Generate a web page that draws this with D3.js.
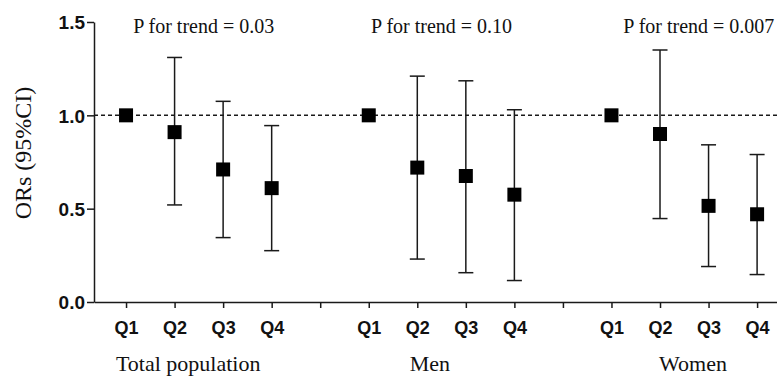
<!DOCTYPE html>
<html>
<head>
<meta charset="utf-8">
<script src="https://cdn.jsdelivr.net/npm/d3@7"></script>
<style>
  body { margin: 0; background: #fff; }
  .axis path, .axis line { stroke: #1a1a1a; stroke-width: 1.5px; }
  .tick-lbl { font-family: "Liberation Sans", Arial, sans-serif; font-weight: bold; fill: #111; }
  .serif { font-family: "Liberation Serif", "Times New Roman", serif; fill: #111; }
</style>
</head>
<body>
<div id="chart"></div>
<script>
// slot labels along the x axis ("" = empty gap slot between groups)
const slotLabels = ["Q1", "Q2", "Q3", "Q4", "", "Q1", "Q2", "Q3", "Q4", "", "Q1", "Q2", "Q3", "Q4"]

const groups = ["Total population", "Men", "Women"]
const groupSlots = [[0, 1, 2, 3], [5, 6, 7, 8], [10, 11, 12, 13]]
const groupLabelPos = [1.28, 6.26, 11.68]
const trendText = ["P for trend = 0.03", "P for trend = 0.10", "P for trend = 0.007"]
const trendPos = [1.6, 6.5, 11.8]

// OR and 95% CI per quartile, per group (Q1 reference has no CI)
const orTotal = [1.0, 0.91, 0.71, 0.61]
const loTotal = [null, 0.52, 0.345, 0.275]
const hiTotal = [null, 1.31, 1.075, 0.945]

const orMen = [1.0, 0.72, 0.675, 0.575]
const loMen = [null, 0.23, 0.157, 0.115]
const hiMen = [null, 1.21, 1.185, 1.03]

const orWomen = [1.0, 0.9, 0.515, 0.47]
const loWomen = [null, 0.447, 0.19, 0.147]
const hiWomen = [null, 1.35, 0.842, 0.79]

const yTicks = [0.0, 0.5, 1.0, 1.5]

const W = 777, H = 376

const svg = d3.select("#chart").append("svg")
    .attr("width", W)
    .attr("height", H)

const x = d3.scaleLinear().domain([-0.66, 13.41]).range([94, 777])
const y = d3.scaleLinear().domain([0, 1.5]).range([302, 22])

const points = []
const ors = [orTotal, orMen, orWomen]
const los = [loTotal, loMen, loWomen]
const his = [hiTotal, hiMen, hiWomen]
groups.forEach((g, gi) => {
    groupSlots[gi].forEach((s, qi) => {
        points.push({ slot: s, or: ors[gi][qi], lo: los[gi][qi], hi: his[gi][qi] })
    })
})

// y axis
const yAxis = svg.append("g")
    .attr("class", "axis")
    .attr("transform", `translate(${x(-0.66)},0)`)
    .call(d3.axisLeft(y).tickValues(yTicks).tickFormat(d3.format(".1f")).tickSize(7).tickSizeOuter(0))
yAxis.selectAll("text")
    .attr("class", "tick-lbl")
    .attr("font-size", 19)
    .attr("x", -9)
    .attr("dy", "0.36em")

// x axis
const xAxis = svg.append("g")
    .attr("class", "axis")
    .attr("transform", `translate(0,${y(0)})`)
    .call(d3.axisBottom(x).tickValues(d3.range(slotLabels.length)).tickFormat((d) => slotLabels[d]).tickSize(6).tickSizeOuter(0))
xAxis.selectAll("text")
    .attr("class", "tick-lbl")
    .attr("font-size", 18)
    .attr("y", 0)
    .attr("dy", 0)
    .attr("transform", "translate(0,32)")

// reference line at OR = 1
svg.append("line")
    .attr("x1", x(-0.66))
    .attr("x2", x(13.41))
    .attr("y1", y(1))
    .attr("y2", y(1))
    .attr("stroke", "#1a1a1a")
    .attr("stroke-width", 1.5)
    .attr("stroke-dasharray", "4,3")

// error bars
const ci = points.filter((d) => d.lo != null)
const eb = svg.append("g").attr("stroke", "#1a1a1a").attr("stroke-width", 1.5)
eb.selectAll(".v").data(ci).enter().append("line")
    .attr("x1", (d) => x(d.slot)).attr("x2", (d) => x(d.slot))
    .attr("y1", (d) => y(d.lo)).attr("y2", (d) => y(d.hi))
eb.selectAll(".hi").data(ci).enter().append("line")
    .attr("x1", (d) => x(d.slot) - 7.5).attr("x2", (d) => x(d.slot) + 7.5)
    .attr("y1", (d) => y(d.hi)).attr("y2", (d) => y(d.hi))
eb.selectAll(".lo").data(ci).enter().append("line")
    .attr("x1", (d) => x(d.slot) - 7.5).attr("x2", (d) => x(d.slot) + 7.5)
    .attr("y1", (d) => y(d.lo)).attr("y2", (d) => y(d.lo))

// square markers
svg.append("g").selectAll("rect").data(points).enter().append("rect")
    .attr("x", (d) => x(d.slot) - 7)
    .attr("y", (d) => y(d.or) - 7)
    .attr("width", 14)
    .attr("height", 14)
    .attr("fill", "#000")

// p for trend labels
svg.append("g").selectAll("text").data(trendText).enter().append("text")
    .attr("class", "serif")
    .attr("x", (d, i) => x(trendPos[i]))
    .attr("y", 33)
    .attr("text-anchor", "middle")
    .attr("font-size", 20)
    .text((d) => d)

// group labels
svg.append("g").selectAll("text").data(groups).enter().append("text")
    .attr("class", "serif")
    .attr("x", (d, i) => x(groupLabelPos[i]))
    .attr("y", 371)
    .attr("text-anchor", "middle")
    .attr("font-size", 22)
    .text((d) => d)

// y title
svg.append("text")
    .attr("class", "serif")
    .attr("transform", `translate(31,153) rotate(-90)`)
    .attr("text-anchor", "middle")
    .attr("font-size", 24)
    .text("ORs (95%CI)")
</script>
</body>
</html>
